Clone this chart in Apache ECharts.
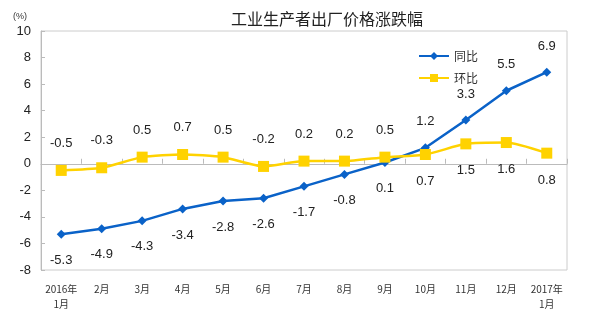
<!DOCTYPE html>
<html><head><meta charset="utf-8">
<script src="https://cdn.jsdelivr.net/npm/echarts@6/dist/echarts.min.js"></script>
<style>html,body{margin:0;padding:0;background:#fff}#c{width:600px;height:326px}</style>
</head><body><div id="c"></div>
<script>
const categories = ['2016年\n1月','2月','3月','4月','5月','6月','7月','8月','9月','10月','11月','12月','2017年\n1月'];
const yoy = [-5.3,-4.9,-4.3,-3.4,-2.8,-2.6,-1.7,-0.8,0.1,1.2,3.3,5.5,6.9];
const mom = [-0.5,-0.3,0.5,0.7,0.5,-0.2,0.2,0.2,0.5,0.7,1.5,1.6,0.8];
const yTicks = {min:-8, max:10, interval:2};
const yoyAboveFrom = 9;  // index from which 同比 labels sit above
const momBelowFrom = 9;  // index from which 环比 labels sit below

const FONT = '"Liberation Sans", Arial, "Noto Sans CJK SC", sans-serif';
const labelStyle = {show:true, fontSize:13, color:'#222', fontFamily:FONT, distance:15};
const blue = '#0a62c8', yellow = '#ffd200';

const chart = echarts.init(document.getElementById('c'), null, {renderer:'canvas'});
chart.setOption({
  animation:false,
  backgroundColor:'#fff',
  title:{text:'工业生产者出厂价格涨跌幅', left:226, top:6,
    textStyle:{fontSize:16, fontWeight:'normal', color:'#222', fontFamily:'"Noto Sans CJK SC", sans-serif'}},
  graphic:[{type:'text', left:13, top:12, style:{text:'(%)', fontSize:9, fill:'#333', fontFamily:FONT}}],
  legend:{orient:'vertical', left:413, top:45, itemWidth:30, itemHeight:10, itemGap:10,
    textStyle:{fontSize:12, color:'#333', fontFamily:'"Noto Sans CJK SC", sans-serif'},
    data:['同比','环比']},
  grid:{left:41, right:33, top:31, bottom:56, show:true, borderColor:'#ccc', borderWidth:1},
  xAxis:{type:'category', data:categories, boundaryGap:true,
    axisLine:{lineStyle:{color:'#bbb'}},
    axisTick:{show:true, inside:true, length:5, lineStyle:{color:'#bbb'}},
    axisLabel:{fontSize:10, color:'#333', margin:12, lineHeight:15, fontFamily:'"Noto Sans CJK SC", sans-serif', interval:0},
    splitLine:{show:false}},
  yAxis:{type:'value', min:yTicks.min, max:yTicks.max, interval:yTicks.interval,
    axisLine:{show:true, lineStyle:{color:'#bbb'}},
    axisTick:{show:true, inside:true, length:4, lineStyle:{color:'#bbb'}},
    axisLabel:{fontSize:13, color:'#222', margin:10, fontFamily:FONT},
    splitLine:{show:false}},
  series:[
    {name:'同比', type:'line', symbol:'diamond', symbolSize:9,
      lineStyle:{color:blue, width:2.5}, itemStyle:{color:blue},
      data:yoy.map((v,i)=>({value:v, label:Object.assign({}, labelStyle, {position: i>=yoyAboveFrom?'top':'bottom'})}))},
    {name:'环比', type:'line', symbol:'rect', symbolSize:11, smooth:0.2,
      lineStyle:{color:yellow, width:2.5}, itemStyle:{color:yellow},
      data:mom.map((v,i)=>({value:v, label:Object.assign({}, labelStyle, {position: i>=momBelowFrom?'bottom':'top'})}))}
  ]
});
</script></body></html>
